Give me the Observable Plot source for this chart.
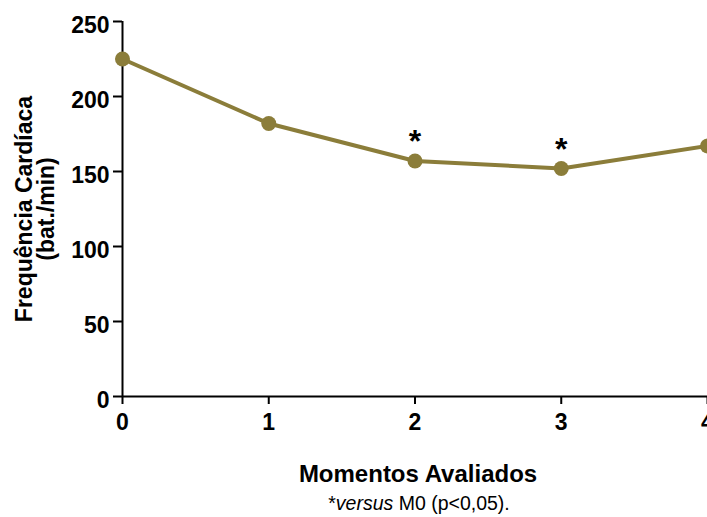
<!DOCTYPE html>
<html>
<head>
<meta charset="utf-8">
<script src="https://cdn.jsdelivr.net/npm/d3@7"></script>
<script src="https://cdn.jsdelivr.net/npm/@observablehq/plot@0.6"></script>
<style>
  html, body { margin: 0; padding: 0; background: #fff; }
  #chart svg { display: block; }
</style>
</head>
<body>
<div id="chart"></div>
<script>
const moments = [0, 1, 2, 3, 4];
const heartRate = [225, 182, 157, 152, 167];
const significance = ["", "", "*", "*", ""];
const xTicks = [0, 1, 2, 3, 4];
const yTicks = [0, 50, 100, 150, 200, 250];
const xTitle = "Momentos Avaliados";
const yTitleLine1 = "Frequência Cardíaca";
const yTitleLine2 = "(bat./min)";
const caption = "*versus M0 (p<0,05).";

const data = moments.map((m, i) => ({moment: m, hr: heartRate[i], sig: significance[i]}));
const color = "#8b7d3a";
const font = "'Liberation Sans', Arial, Helvetica, sans-serif";

const chart = Plot.plot({
  width: 707,
  height: 517,
  marginLeft: 122,
  marginRight: 0,
  marginTop: 21,
  marginBottom: 121,
  style: {fontFamily: font, background: "#fff", color: "#000"},
  x: {domain: [0, 4]},
  y: {domain: [0, 250]},
  marks: [
    Plot.axisY({ticks: yTicks, tickSize: 9, fill: "none", strokeWidth: 2, label: null}),
    Plot.axisY({ticks: yTicks, tickSize: 9, tickPadding: 4, stroke: "none", dy: 4, fontSize: 23, fontWeight: "bold", label: null, tickFormat: "d"}),
    Plot.axisX({ticks: xTicks, tickSize: 8, fill: "none", strokeWidth: 2, label: null}),
    Plot.axisX({ticks: xTicks, tickSize: 8, tickPadding: 9, stroke: "none", fontSize: 23, fontWeight: "bold", label: null, tickFormat: "d"}),
    Plot.ruleX([0], {strokeWidth: 2}),
    Plot.ruleY([0], {strokeWidth: 2}),
    Plot.line(data, {x: "moment", y: "hr", stroke: color, strokeWidth: 4}),
    Plot.dot(data, {x: "moment", y: "hr", r: 7.5, fill: color, stroke: "none"}),
    Plot.text(data, {x: "moment", y: "hr", text: "sig", dy: -19, fontSize: 32, fontWeight: "bold"}),
    Plot.text([xTitle], {frameAnchor: "bottom", dy: 85, dx: 3, fontSize: 24, fontWeight: "bold"}),
    Plot.text([caption], {frameAnchor: "bottom", dy: 113, dx: 4, fontSize: 19.5}),
    Plot.text([yTitleLine1], {frameAnchor: "left", rotate: -90, textAnchor: "middle", dx: -98, fontSize: 23, fontWeight: "bold"}),
    Plot.text([yTitleLine2], {frameAnchor: "left", rotate: -90, textAnchor: "middle", dx: -76, fontSize: 23, fontWeight: "bold"})
  ]
});

// Italicise "versus" in the caption
d3.select(chart).selectAll("text").each(function() {
  if (this.textContent === caption) {
    const t = d3.select(this);
    t.text(null);
    t.append("tspan").text("*");
    t.append("tspan").attr("font-style", "italic").text("versus");
    t.append("tspan").text(" M0 (p<0,05).");
  }
});

document.getElementById("chart").appendChild(chart);
</script>
</body>
</html>
